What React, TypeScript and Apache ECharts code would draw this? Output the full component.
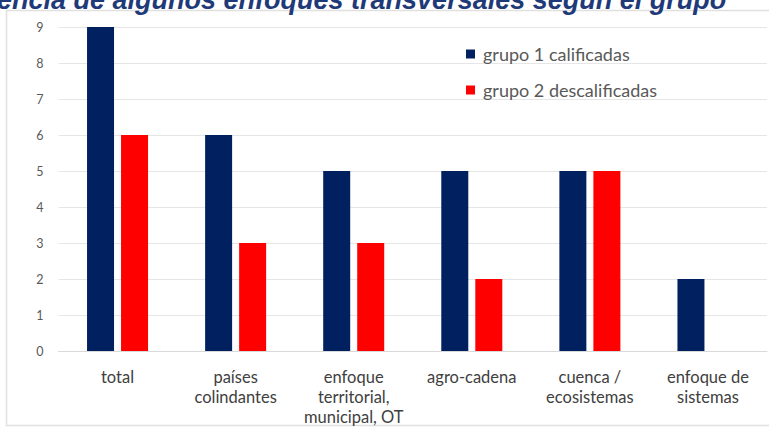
import React, { useEffect, useRef } from "react";
import * as echarts from "echarts";

const categories = [
  "total",
  "países\ncolindantes",
  "enfoque\nterritorial,\nmunicipal, OT",
  "agro-cadena",
  "cuenca /\necosistemas",
  "enfoque de\nsistemas",
];
const grupo1 = [9, 6, 5, 5, 5, 2];
const grupo2 = [6, 3, 3, 2, 5, null];
const seriesNames = ["grupo 1 calificadas", "grupo 2 descalificadas"];
const titleText = "encia de algunos enfoques transversales según el grupo";

export default function App() {
  const ref = useRef<HTMLDivElement>(null);
  useEffect(() => {
    if (!ref.current) return;
    const chart = echarts.init(ref.current, null, { renderer: "svg" });
    chart.setOption({
      animation: false,
      backgroundColor: "#ffffff",
      graphic: [
        {
          type: "rect",
          shape: { x: 6.5, y: 10.5, width: 780, height: 415 },
          style: { fill: "none", stroke: "#e0e0e0", lineWidth: 1.5 },
          z: -1,
        },
        {
          type: "text",
          x: -3,
          y: 13,
          style: {
            text: titleText,
            font: "italic bold 27px 'Liberation Sans', Arial, sans-serif",
            fill: "#1f3a78",
            textAlign: "left",
            textVerticalAlign: "bottom",
          },
          z: 10,
        },
      ],
      grid: { left: 58.5, right: 2, top: 27, bottom: 75 },
      legend: {
        orient: "vertical",
        left: 461,
        top: 40,
        itemWidth: 9,
        itemHeight: 9,
        itemGap: 18,
        icon: "rect",
        data: seriesNames,
        textStyle: { fontFamily: "Lato", fontSize: 18, color: "#595959", padding: [0, 0, 0, 3] },
      },
      xAxis: {
        type: "category",
        data: categories,
        axisLine: { lineStyle: { color: "#d9d9d9" } },
        axisTick: { show: false },
        axisLabel: {
          fontFamily: "Lato",
          fontSize: 16.5,
          color: "#404040",
          margin: 16,
          lineHeight: 20,
          interval: 0,
        },
      },
      yAxis: {
        type: "value",
        min: 0,
        max: 9,
        interval: 1,
        axisLine: { show: false },
        axisTick: { show: false },
        splitLine: { lineStyle: { color: "#e6e6e6" } },
        axisLabel: { fontFamily: "Lato", fontSize: 12.5, color: "#595959", margin: 15 },
      },
      series: [
        {
          name: seriesNames[0],
          type: "bar",
          data: grupo1,
          barWidth: 27,
          barGap: "26%",
          itemStyle: { color: "#002060" },
        },
        {
          name: seriesNames[1],
          type: "bar",
          data: grupo2,
          barWidth: 27,
          itemStyle: { color: "#ff0000" },
        },
      ],
    });
    return () => chart.dispose();
  }, []);
  return (
    <div
      ref={ref}
      style={{ position: "fixed", left: 0, top: 0, width: 769, height: 427 }}
    />
  );
}
